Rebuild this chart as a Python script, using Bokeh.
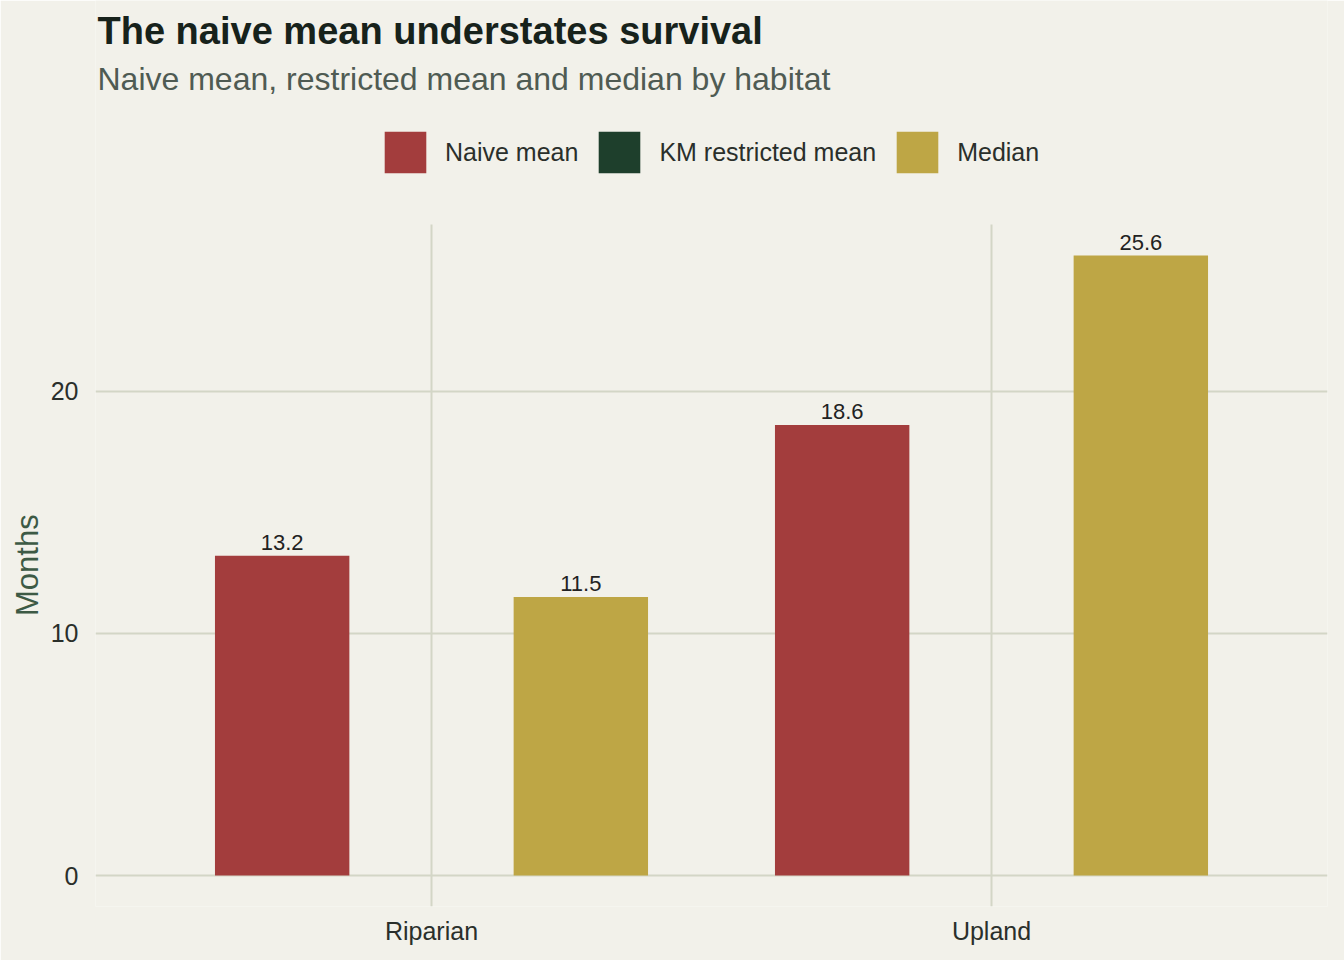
import numpy as np
from bokeh.plotting import figure
from bokeh.models import (ColumnDataSource, Range1d, FixedTicker, Legend, LegendItem, Label, Title)
from bokeh.core.properties import value
from bokeh.embed import file_html
from bokeh.resources import INLINE

# ---- data ----
habitats = ["Riparian", "Upland"]
series = ["Naive mean", "KM restricted mean", "Median"]
naive_mean = [13.2, 18.6]
km_restricted_mean = [float("nan"), float("nan")]  # not drawn in the reference
median = [11.5, 25.6]
colors = ["#A33D3D", "#1E3F2C", "#BEA645"]
y_ticks = [0, 10, 20]

title_text = "The naive mean understates survival"
subtitle_text = "Naive mean, restricted mean and median by habitat"
y_title = "Months"

FONT = "Liberation Sans"
BG = "#F2F1EA"
GRID = "#D3D6C6"

values = [naive_mean, km_restricted_mean, median]
idx = np.arange(1, len(habitats) + 1)
dodge_w = 0.8
n = len(series)
bar_w = 0.24

# panel geometry (pixels) -- the panel top sits 224 px below the canvas top
W, H = 1344, 960
panel_top, panel_bottom = 224, 906
ymax = np.nanmax(np.array(naive_mean + median))
pad = 0.05 * ymax
y0, y1 = -pad, ymax + pad
ppu = (panel_bottom - panel_top) / (y1 - y0)
y_top = y1 + panel_top / ppu   # extend range so the header area is inside the frame

p = figure(width=W, height=H, output_backend="svg", toolbar_location=None,
           x_range=Range1d(0.4, len(habitats) + 0.6), y_range=Range1d(y0, y_top),
           min_border_left=95, min_border_right=17, min_border_top=0, min_border_bottom=H - panel_bottom)
p.background_fill_color = BG
p.border_fill_color = BG
p.outline_line_color = None

# vertical grid lines (only over the panel)
p.segment(x0=idx, x1=idx, y0=y0, y1=y1, line_color=GRID, line_width=2)

items = []
for i, (name, vals, col) in enumerate(zip(series, values, colors)):
    off = (i - (n - 1) / 2) * dodge_w / n
    xs = idx + off
    src = ColumnDataSource(dict(x=xs, top=vals,
                                lab=["" if np.isnan(v) else f"{v:.1f}" for v in vals]))
    r = p.vbar(x="x", top="top", bottom=0, width=bar_w, source=src, fill_color=col, line_color=None)
    p.text(x="x", y="top", text="lab", source=src, text_align="center", text_baseline="alphabetic",
           y_offset=-13.5, text_font_size="22px", text_color="#222222", text_font=value(FONT))
    items.append(LegendItem(label=name, renderers=[r]))

legend = Legend(items=items, orientation="horizontal", location=(284, panel_bottom - 178),
                glyph_width=52, glyph_height=52, label_standoff=14, spacing=15,
                padding=0, margin=0, background_fill_alpha=0, border_line_color=None,
                label_text_font_size="25px", label_text_color="#2A2F2B", label_text_font=FONT,
                label_height=52)
p.add_layout(legend, "center")

# axes
p.xaxis.ticker = FixedTicker(ticks=list(idx))
p.xaxis.major_label_overrides = {int(i): h for i, h in zip(idx, habitats)}
p.yaxis.ticker = FixedTicker(ticks=y_ticks)
for ax in (p.xaxis[0], p.yaxis[0]):
    ax.axis_line_color = None
    ax.major_tick_line_color = None
    ax.minor_tick_line_color = None
    ax.major_label_text_font = FONT
    ax.major_label_text_font_size = "25px"
    ax.major_label_text_color = "#2A2F2B"
p.xaxis.major_label_standoff = 4
p.yaxis.major_label_standoff = 11

# y-axis title, centred on the panel (not on the whole frame)
y_title_size = 31
y_title_len = 101  # approx rendered length in px
panel_mid = (panel_top + panel_bottom) / 2
p.add_layout(Title(text=y_title, align="left",
                   offset=panel_bottom - (panel_mid + y_title_len / 2),
                   text_font=FONT, text_font_size=f"{y_title_size}px", text_font_style="normal",
                   text_color="#3D5A45", standoff=6), "left")

p.xgrid.visible = False
p.ygrid.ticker = FixedTicker(ticks=y_ticks)
p.ygrid.grid_line_color = GRID
p.ygrid.grid_line_width = 2

# title / subtitle anchored at the panel's top-left corner
p.add_layout(Label(x=0.4, y=y1, x_offset=2, y_offset=194, text=title_text,
                   text_font=FONT, text_font_size="38px", text_font_style="bold",
                   text_color="#17221B", text_baseline="alphabetic"))
p.add_layout(Label(x=0.4, y=y1, x_offset=2, y_offset=146, text=subtitle_text,
                   text_font=FONT, text_font_size="32px",
                   text_color="#4F5B53", text_baseline="alphabetic"))

open("out.html", "w").write(file_html(p, INLINE))
